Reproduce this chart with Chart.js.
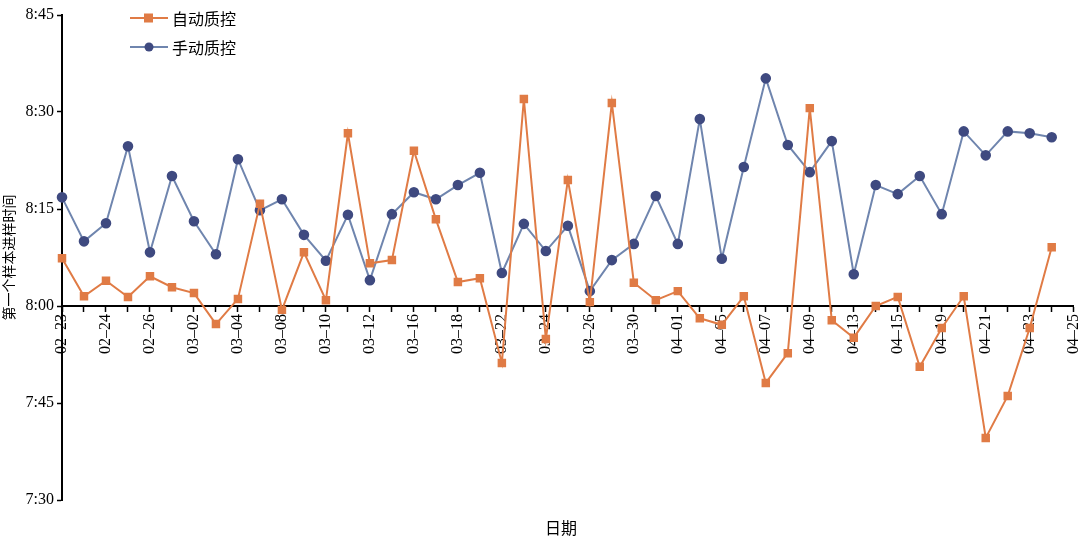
<!DOCTYPE html>
<html><head><meta charset="utf-8">
<script src="https://cdn.jsdelivr.net/npm/chart.js@4"></script>
<style>
body{margin:0;background:#fff;width:1080px;height:546px;overflow:hidden;font-family:"Liberation Serif","DejaVu Serif",serif}
#wrap{position:relative;width:1080px;height:546px}
.lg{position:absolute;font-size:16px;color:#000;font-family:"Noto Sans CJK SC",sans-serif}
.xt{position:absolute;left:545px;top:515px;font-size:16px;font-family:"Noto Sans CJK SC",sans-serif}
</style></head><body>
<div id="wrap"><canvas id="c" width="1080" height="546"></canvas>
<div class="xt">日期</div>
<canvas id="lg" width="140" height="60" style="position:absolute;left:128px;top:5px"></canvas>
<div class="lg" style="left:172px;top:6px">自动质控</div>
<div class="lg" style="left:172px;top:35px">手动质控</div>
</div>
<script>
const categories=["02-23","02-23b","02-24","02-25","02-26","02-27","03-02","03-03","03-04","03-05","03-08","03-09","03-10","03-11","03-12","03-15","03-16","03-17","03-18","03-20","03-22","03-23","03-24","03-25","03-26","03-28","03-30","03-31","04-01","04-03","04-05","04-06","04-07","04-08","04-09","04-11","04-13","04-14","04-15","04-17","04-19","04-20","04-21","04-22","04-23","04-24","04-25"];
const autoQC=[487.4,481.5,483.9,481.4,484.6,482.9,482,477.2,481.1,495.8,479.4,488.3,480.9,506.7,486.6,487.1,504,493.4,483.7,484.3,471.2,512,474.9,499.5,480.6,511.4,483.6,480.9,482.3,478.1,477.1,481.5,468.1,472.7,510.6,477.8,475.1,480,481.4,470.6,476.6,481.5,459.6,466.1,476.6,489.1];
const manualQC=[496.8,490,492.8,504.7,488.3,500.1,493.1,488,502.7,494.8,496.5,491,487,494.1,484,494.2,497.6,496.5,498.7,500.6,485.1,492.7,488.5,492.4,482.3,487.1,489.6,497,489.6,508.9,487.3,501.5,515.2,504.9,500.7,505.5,484.9,498.7,497.3,500.1,494.2,507,503.3,507,506.7,506.1];
const yTicks=[450,465,480,495,510,525];
const ORANGE='#E07B45', BLUE='#6F85AE', NAVY='#3F4A80';
const fmt=v=>Math.floor(v/60)+':'+String(v%60).padStart(2,'0');
new Chart(document.getElementById('c'),{
 type:'line',
 data:{labels:categories,datasets:[
  {label:'自动质控',data:autoQC,borderColor:ORANGE,backgroundColor:ORANGE,borderWidth:2,pointStyle:'rect',pointRadius:6,pointBorderWidth:0,tension:0},
  {label:'手动质控',data:manualQC,borderColor:BLUE,backgroundColor:NAVY,pointBackgroundColor:NAVY,pointBorderColor:NAVY,borderWidth:2,pointStyle:'circle',pointRadius:4.3,tension:0}
 ]},
 options:{responsive:false,animation:false,
  layout:{padding:{left:0,top:15,right:0,bottom:46}},
  plugins:{legend:{display:false},tooltip:{enabled:false}},
  scales:{
   x:{position:{y:480},offset:false,
      afterFit:s=>{s.paddingRight=6;s.paddingLeft=0;},
      grid:{display:true,drawOnChartArea:false,color:'#000',tickLength:5,tickWidth:1.5},
      border:{color:'#000',width:2},
      ticks:{autoSkip:false,maxRotation:90,minRotation:90,color:'#000',font:{family:'Liberation Serif',size:16},
        callback:(v,i)=>i%2===0?categories[i].replace('-','\u2013'):''}},
   y:{min:450,max:525,afterBuildTicks:s=>{s.ticks=yTicks.map(v=>({value:v}));},
      afterFit:s=>{s.width=62;},
      grid:{display:true,drawOnChartArea:false,color:'#000',tickLength:5,tickWidth:1.5},
      border:{color:'#000',width:2},
      title:{display:true,text:'第一个样本进样时间',color:'#000',font:{family:'Noto Sans CJK SC',size:14},padding:0},
      ticks:{color:'#000',font:{family:'Liberation Serif',size:16},padding:3,callback:v=>fmt(v)}}
  }}
});
const g=document.getElementById('lg').getContext('2d');
function item(y,col,pc,sq){g.strokeStyle=col;g.lineWidth=2;g.beginPath();g.moveTo(2,y);g.lineTo(40,y);g.stroke();g.fillStyle=pc;
 if(sq)g.fillRect(16,y-4.5,9,9);else{g.beginPath();g.arc(21,y,4.5,0,7);g.fill();}}
item(13,ORANGE,ORANGE,true);item(42,BLUE,NAVY,false);
</script></body></html>
